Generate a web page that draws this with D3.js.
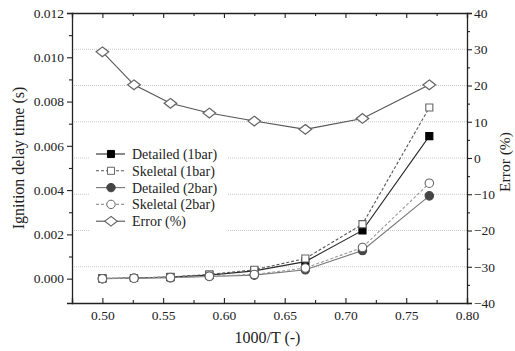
<!DOCTYPE html>
<html>
<head>
<meta charset="utf-8">
<script src="https://cdn.jsdelivr.net/npm/d3@7"></script>
<style>
  body { margin: 0; background: #fff; }
  svg text { font-family: "Liberation Serif", serif !important; fill: #222; }
</style>
</head>
<body>
<div id="chart-area"></div>
<script>
// data
const invT = [0.500, 0.526, 0.556, 0.588, 0.625, 0.667, 0.714, 0.769]
const detailed1 = [0.00001, 0.00003, 0.00007, 0.00016, 0.00035, 0.00077, 0.00218, 0.00644]
const skeletal1 = [0.00001, 0.00003, 0.00008, 0.00019, 0.00040, 0.00091, 0.00246, 0.00773]
const detailed2 = [0.00000, 0.00002, 0.00004, 0.00010, 0.00016, 0.00040, 0.00127, 0.00374]
const skeletal2 = [0.00000, 0.00002, 0.00005, 0.00011, 0.00019, 0.00048, 0.00141, 0.00431]
const errorPct = [29.3, 20.2, 15.1, 12.4, 10.2, 7.9, 10.9, 20.2]

const xTicks = [0.50, 0.55, 0.60, 0.65, 0.70, 0.75, 0.80]
const yTicks = [0.000, 0.002, 0.004, 0.006, 0.008, 0.010, 0.012]
const errTicks = [-40, -30, -20, -10, 0, 10, 20, 30, 40]
const gridTicks = [-30, -20, -10, 0, 10, 20, 30]

const legendNames = ["Detailed (1bar)", "Skeletal (1bar)", "Detailed (2bar)", "Skeletal (2bar)", "Error (%)"]

const FONT = "'Liberation Serif', serif"
const W = 515, H = 351
const M = { LEFT: 72, RIGHT: 48, TOP: 13, BOTTOM: 48 }
const WIDTH = W - M.LEFT - M.RIGHT
const HEIGHT = H - M.TOP - M.BOTTOM

const svg = d3.select("#chart-area").append("svg")
  .attr("width", W)
  .attr("height", H)
  .attr("font-family", FONT)

const g = svg.append("g")
  .attr("transform", `translate(${M.LEFT}, ${M.TOP})`)

// scales
const x = d3.scaleLinear().domain([0.475, 0.80]).range([0, WIDTH])
const y = d3.scaleLinear().domain([-0.0011, 0.012]).range([HEIGHT, 0])
const yErr = d3.scaleLinear().domain([-40, 40]).range([HEIGHT, 0])

// dotted grid at the error axis majors
g.append("g").selectAll("line")
  .data(gridTicks)
  .enter().append("line")
  .attr("x1", 0).attr("x2", WIDTH)
  .attr("y1", d => yErr(d)).attr("y2", d => yErr(d))
  .attr("stroke", "#c8c8c8")
  .attr("stroke-width", 1)
  .attr("stroke-dasharray", "1,1")

// legend background hides the grid
g.append("rect")
  .attr("x", 90 - M.LEFT).attr("y", 145 - M.TOP)
  .attr("width", 138).attr("height", 88)
  .attr("fill", "#fff")

// series
const series = [
  { name: legendNames[0], vals: detailed1, scale: y, color: "#2a2a2a", dash: null, shape: "square", fill: "#000" },
  { name: legendNames[1], vals: skeletal1, scale: y, color: "#555", dash: "3,2", shape: "square", fill: "#fff" },
  { name: legendNames[2], vals: detailed2, scale: y, color: "#777", dash: null, shape: "circle", fill: "#444" },
  { name: legendNames[3], vals: skeletal2, scale: y, color: "#999", dash: "3,2", shape: "circle", fill: "#fff" },
  { name: legendNames[4], vals: errorPct, scale: yErr, color: "#555", dash: null, shape: "diamond", fill: "#fff" }
]

const symbolOf = shape => {
  if (shape === "square") return d3.symbol().type(d3.symbolSquare).size(50)
  if (shape === "circle") return d3.symbol().type(d3.symbolCircle).size(56)
  return d3.symbol().type(d3.symbolDiamond2).size(60)
}

series.forEach(s => {
  const pts = invT.map((t, i) => [x(t), s.scale(s.vals[i])])
  g.append("path")
    .attr("d", d3.line()(pts))
    .attr("fill", "none")
    .attr("stroke", s.color)
    .attr("stroke-width", 1.1)
    .attr("stroke-dasharray", s.dash)
})

series.forEach(s => {
  const sym = symbolOf(s.shape)
  g.append("g").selectAll("path")
    .data(invT)
    .enter().append("path")
    .attr("transform", (t, i) => `translate(${x(t)}, ${s.scale(s.vals[i])})` + (s.shape === "diamond" ? " scale(1.3,1)" : ""))
    .attr("d", sym())
    .attr("fill", s.fill)
    .attr("stroke", s.fill === "#fff" ? "#666" : s.fill)
    .attr("stroke-width", 1.1)
})

// legend
const legend = g.append("g").attr("transform", `translate(${96 - M.LEFT}, ${154 - M.TOP})`)
series.forEach((s, i) => {
  const row = legend.append("g").attr("transform", `translate(0, ${i * 16.8})`)
  row.append("line")
    .attr("x1", 0).attr("x2", 29)
    .attr("y1", 0).attr("y2", 0)
    .attr("stroke", s.color)
    .attr("stroke-width", 1.1)
    .attr("stroke-dasharray", s.dash)
  row.append("path")
    .attr("transform", `translate(15, 0)` + (s.shape === "diamond" ? " scale(1.3,1)" : ""))
    .attr("d", symbolOf(s.shape)())
    .attr("fill", s.fill)
    .attr("stroke", s.fill === "#fff" ? "#666" : s.fill)
    .attr("stroke-width", 1)
  row.append("text")
    .attr("x", 36).attr("y", 0)
    .attr("dy", "0.35em")
    .attr("font-size", "14px")
    .text(s.name)
})

// axes
const fmt3 = d3.format(".3f")
const fmt2 = d3.format(".2f")

// bottom: inward ticks
g.append("g")
  .attr("transform", `translate(0, ${HEIGHT})`)
  .call(d3.axisBottom(x).tickValues(xTicks).tickFormat(fmt2).tickSize(-5).tickPadding(7))
g.append("g")
  .attr("transform", `translate(0, ${HEIGHT})`)
  .call(d3.axisBottom(x).tickValues(d3.range(0.475, 0.80, 0.05)).tickFormat("").tickSize(-3))
  .select(".domain").remove()

// top: inward ticks, no labels
g.append("g")
  .call(d3.axisTop(x).tickValues(xTicks).tickFormat("").tickSize(-5))
g.append("g")
  .call(d3.axisTop(x).tickValues(d3.range(0.475, 0.80, 0.05)).tickFormat("").tickSize(-3))
  .select(".domain").remove()

// left: outward ticks
g.append("g")
  .call(d3.axisLeft(y).tickValues(yTicks).tickFormat(fmt3).tickSize(5).tickPadding(3))
g.append("g")
  .call(d3.axisLeft(y).tickValues(d3.range(0.001, 0.012, 0.002)).tickFormat("").tickSize(3))
  .select(".domain").remove()

// right: outward ticks
g.append("g")
  .attr("transform", `translate(${WIDTH}, 0)`)
  .call(d3.axisRight(yErr).tickValues(errTicks).tickSize(5).tickPadding(2))
g.append("g")
  .attr("transform", `translate(${WIDTH}, 0)`)
  .call(d3.axisRight(yErr).tickValues(d3.range(-35, 40, 10)).tickFormat("").tickSize(3))
  .select(".domain").remove()

g.selectAll("g").filter(function () { return this.hasAttribute("font-family") })
  .attr("font-family", FONT).attr("font-size", 13.5)
g.selectAll(".domain").attr("stroke", "#222").attr("stroke-width", 1.3)
g.selectAll(".tick line").attr("stroke", "#222").attr("stroke-width", 1.1)
g.selectAll(".tick text").attr("fill", "#222")

// axis titles
svg.append("text")
  .attr("x", M.LEFT + WIDTH / 2 - 2)
  .attr("y", 343)
  .attr("text-anchor", "middle")
  .attr("font-size", "16px")
  .text("1000/T (-)")

svg.append("text")
  .attr("transform", `translate(24, ${M.TOP + HEIGHT / 2}) rotate(-90)`)
  .attr("text-anchor", "middle")
  .attr("font-size", "16px")
  .text("Ignition delay time (s)")

svg.append("text")
  .attr("transform", `translate(510, ${M.TOP + HEIGHT / 2 + 4}) rotate(-90)`)
  .attr("text-anchor", "middle")
  .attr("font-size", "15.5px")
  .text("Error (%)")
</script>
</body>
</html>
